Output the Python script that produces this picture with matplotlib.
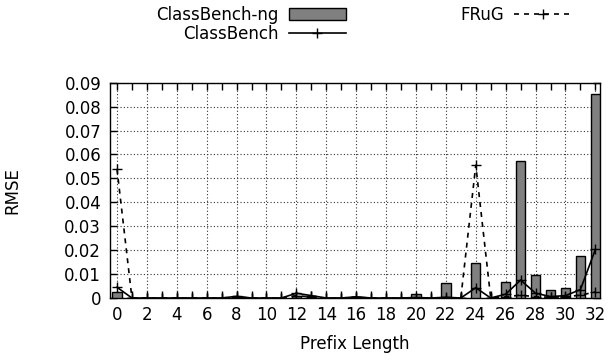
import matplotlib
matplotlib.use("Agg")
import matplotlib.pyplot as plt
import matplotlib.patches as mpatches
from matplotlib.legend_handler import HandlerPatch
from matplotlib.ticker import MultipleLocator

prefix = list(range(33))
classbench_ng = [0.0024, 0, 0, 0, 0, 0, 0, 0, 0.0005, 0, 0, 0, 0.0008, 0.0007, 0, 0,
                 0.0004, 0, 0, 0, 0.0018, 0, 0.0064, 0, 0.0147, 0, 0.0068, 0.0572,
                 0.0096, 0.0032, 0.0040, 0.0175, 0.0854]
classbench = [0.0045, 0, 0, 0, 0, 0, 0, 0, 0.0007, 0, 0, 0, 0.0020, 0.0010, 0, 0,
              0.0005, 0, 0, 0, 0.0002, 0, 0.0003, 0, 0.0043, 0, 0.0016, 0.0075,
              0.0020, 0.0006, 0.0010, 0.0035, 0.0203]
frug = [0.0540, 0, 0, 0, 0, 0, 0, 0, 0.0004, 0, 0, 0, 0.0010, 0.0004, 0, 0,
        0.0003, 0, 0, 0, 0, 0, 0, 0, 0.0555, 0, 0.0005, 0.0012, 0.0005, 0.0003,
        0.0005, 0.0012, 0.0025]
xticks = list(range(0, 33, 2))
yticks = [0, 0.01, 0.02, 0.03, 0.04, 0.05, 0.06, 0.07, 0.08, 0.09]
ytick_labels = ["0", "0.01", "0.02", "0.03", "0.04", "0.05", "0.06", "0.07", "0.08", "0.09"]

FS = 12
plt.rcParams['font.family'] = ['DejaVu Sans']
plt.rcParams['font.size'] = FS

fig = plt.figure(figsize=(6.10, 3.64), dpi=100)
ax = fig.add_axes([109.5/610, 1-298/364, (600-109.5)/610, (298-82.7)/364])

bars = ax.bar(prefix, classbench_ng, width=0.62, color='#808080', edgecolor='black',
              linewidth=1.0, zorder=3, label='ClassBench-ng')
l1, = ax.plot(prefix, classbench, color='black', lw=1.2, marker='+', ms=7, mew=1.0,
              zorder=4, label='ClassBench')
l2, = ax.plot(prefix, frug, color='black', lw=1.2, ls=(0, (3, 3)), marker='+', ms=7,
              mew=1.0, zorder=4, label='FRuG')

ax.set_xlim(-0.5, 32.31)
ax.set_ylim(0, 0.09)
ax.set_xticks(xticks)
ax.set_xticklabels([str(t) for t in xticks])
ax.xaxis.set_minor_locator(MultipleLocator(1))
ax.set_yticks(yticks)
ax.set_yticklabels(ytick_labels)
ax.tick_params(which='both', direction='in', top=True, right=True, length=5, width=1,
               labelsize=FS, pad=6)
ax.grid(True, which='major', ls=(0, (1, 2)), color='#333333', lw=0.8, zorder=0)
for s in ax.spines.values():
    s.set_linewidth(1.0)
ax.set_xlabel('Prefix Length', fontsize=FS, labelpad=8)
ax.set_ylabel('RMSE', fontsize=FS, labelpad=31)


def thin_box(legend, orig_handle, xdescent, ydescent, width, height, fontsize):
    h = height * 0.55
    return mpatches.Rectangle((-xdescent, -ydescent + (height - h) / 2), width, h)


fig.legend(handles=[bars, l1, l2], labels=['ClassBench-ng', 'ClassBench', 'FRuG'],
           ncol=2, markerfirst=False, frameon=False, loc='upper right',
           bbox_to_anchor=(571/610, 1 - 6/364), handlelength=3.4, handletextpad=0.6,
           columnspacing=6.9, labelspacing=0.05, fontsize=FS, borderaxespad=0,
           borderpad=0,
           handler_map={mpatches.Rectangle: HandlerPatch(patch_func=thin_box)})

fig.savefig('out.png', dpi=100)
